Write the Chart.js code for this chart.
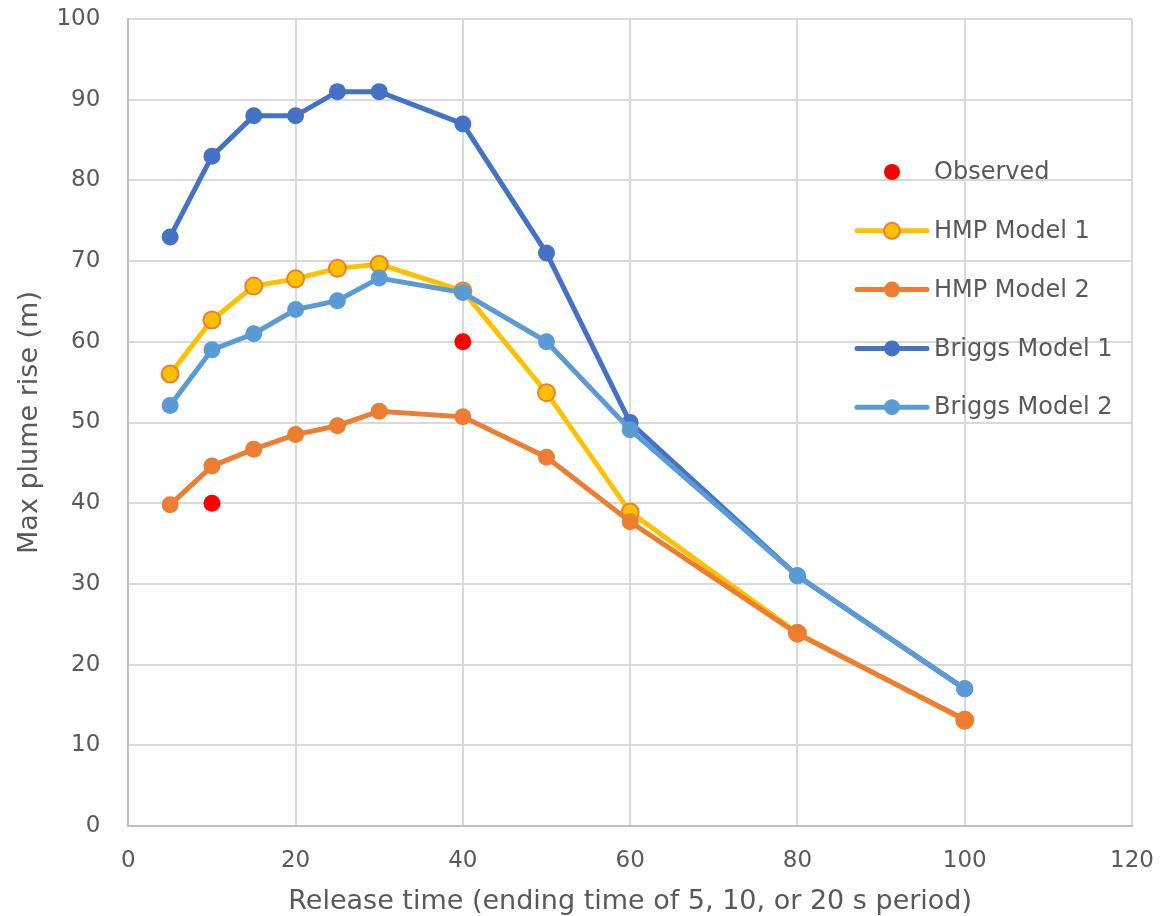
<!DOCTYPE html>
<html>
<head>
<meta charset="utf-8">
<script src="https://cdn.jsdelivr.net/npm/chart.js@4/dist/chart.umd.min.js"></script>
<style>
  html, body { margin: 0; padding: 0; background: #fff; }
  #wrap { width: 1160px; height: 916px; }
</style>
</head>
<body>
<div id="wrap"><canvas id="plumeChart" width="1160" height="916"></canvas></div>
<script>
// release times (s)
const releaseTimes = [5, 10, 15, 20, 25, 30, 40, 50, 60, 80, 100];

const observedX = [10, 40];
const observedY = [40, 60];

const hmpModel1 = [56, 62.7, 66.9, 67.8, 69.1, 69.6, 66.3, 53.7, 38.9, 23.9, 13.1];
const hmpModel2 = [39.8, 44.6, 46.7, 48.5, 49.6, 51.4, 50.7, 45.7, 37.7, 23.8, 13.2];
const briggsModel1 = [73, 83, 88, 88, 91, 91, 87, 71, 50, 31, 17];
const briggsModel2 = [52.1, 59, 61, 64, 65.1, 67.9, 66.1, 60, 49.1, 31, 17];

const xTicks = [0, 20, 40, 60, 80, 100, 120];
const yTicks = [0, 10, 20, 30, 40, 50, 60, 70, 80, 90, 100];

function toPoints(xs, ys) {
  return xs.map((x, i) => ({ x: x, y: ys[i] }));
}

function lineSet(label, ys, color, order) {
  return {
    label: label,
    data: toPoints(releaseTimes, ys),
    borderColor: color,
    backgroundColor: color,
    pointBackgroundColor: color,
    pointBorderColor: color,
    pointBorderWidth: 0,
    borderWidth: 5,
    pointRadius: 8.5,
    showLine: true,
    order: order
  };
}

const textColor = '#595959';
const fontFamily = '"DejaVu Sans", sans-serif';

const plumeData = {
  datasets: [
    {
      label: 'Observed',
      data: toPoints(observedX, observedY),
      backgroundColor: '#FF0000',
      borderColor: '#FF0000',
      pointBackgroundColor: '#FF0000',
      pointBorderWidth: 0,
      pointRadius: 8.5,
      showLine: false,
      order: 0
    },
    Object.assign(lineSet('HMP Model 1', hmpModel1, '#FFC000', 4), {
      pointBorderColor: '#ED7D31', pointBorderWidth: 2
    }),
    lineSet('HMP Model 2', hmpModel2, '#ED7D31', 3),
    lineSet('Briggs Model 1', briggsModel1, '#4472C4', 2),
    lineSet('Briggs Model 2', briggsModel2, '#5B9BD5', 1)
  ]
};

// legend drawn inside the plot area, like the original
const insideLegend = {
  id: 'insideLegend',
  afterDraw(chart) {
    const ctx = chart.ctx;
    const sets = chart.data.datasets;
    const x0 = 857, y0 = 172, rowH = 58.8;
    ctx.save();
    ctx.font = '24px ' + fontFamily;
    ctx.textBaseline = 'middle';
    sets.forEach((ds, i) => {
      const y = y0 + i * rowH;
      if (ds.showLine) {
        ctx.strokeStyle = ds.borderColor;
        ctx.lineWidth = 5;
        ctx.lineCap = 'round';
        ctx.beginPath();
        ctx.moveTo(x0, y);
        ctx.lineTo(x0 + 70, y);
        ctx.stroke();
      }
      ctx.beginPath();
      ctx.arc(x0 + 35, y, 8, 0, Math.PI * 2);
      ctx.fillStyle = ds.pointBackgroundColor;
      ctx.fill();
      if (ds.pointBorderWidth) {
        ctx.lineWidth = ds.pointBorderWidth;
        ctx.strokeStyle = ds.pointBorderColor;
        ctx.stroke();
      }
      ctx.fillStyle = textColor;
      ctx.fillText(ds.label, x0 + 77, y + 1);
    });
    ctx.restore();
  }
};

const plumeConfig = {
  type: 'scatter',
  data: plumeData,
  options: {
    responsive: false,
    animation: false,
    layout: { autoPadding: false, padding: { top: 19, right: 28, left: 14, bottom: -2 } },
    plugins: {
      legend: { display: false },
      tooltip: { enabled: false }
    },
    scales: {
      x: {
        type: 'linear',
        min: 0,
        max: 120,
        afterBuildTicks: axis => { axis.ticks = xTicks.map(v => ({ value: v })); },
        ticks: { color: textColor, font: { size: 23, family: fontFamily }, padding: 0 },
        grid: { color: '#d9d9d9', lineWidth: 2, drawTicks: true, tickLength: 21, tickColor: 'rgba(0,0,0,0)' },
        border: { color: '#bfbfbf', width: 2 },
        title: {
          display: true,
          text: 'Release time (ending time of 5, 10, or 20 s period)',
          color: textColor,
          font: { size: 27, family: fontFamily },
          padding: { top: 11, bottom: 0 }
        }
      },
      y: {
        min: 0,
        max: 100,
        afterBuildTicks: axis => { axis.ticks = yTicks.map(v => ({ value: v })); },
        ticks: { color: textColor, font: { size: 23, family: fontFamily }, padding: 0 },
        grid: { color: '#d9d9d9', lineWidth: 2, drawTicks: true, tickLength: 28, tickColor: 'rgba(0,0,0,0)' },
        border: { color: '#bfbfbf', width: 2 },
        title: {
          display: true,
          text: 'Max plume rise (m)',
          color: textColor,
          font: { size: 27, family: fontFamily },
          padding: { top: 0, bottom: 10 }
        }
      }
    }
  },
  plugins: [insideLegend]
};

const plumeChart = new Chart(
  document.getElementById('plumeChart'),
  plumeConfig
);
</script>
</body>
</html>
